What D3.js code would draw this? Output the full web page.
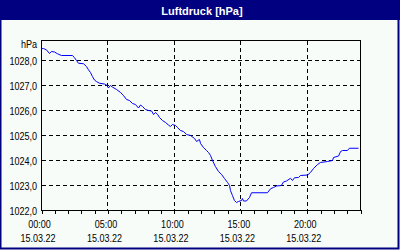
<!DOCTYPE html>
<html><head><meta charset="utf-8">
<script src="https://cdn.jsdelivr.net/npm/d3@7"></script>
<style>
html,body{margin:0;padding:0;background:#f8fcf8;}
svg{display:block;}
text{font-family:"Liberation Sans",Arial,sans-serif;}
</style></head>
<body>
<script>
// time in minutes since 00:00 on 15.03.22
const minutes = [0,9,23,36,45,59,72,90,140,149,158,167,190,203,212,221,230,239,248,262,284,296,302,311,320,339,357,370,384,397,411,424,438,447,456,469,483,497,506,515,524,533,546,560,573,582,591,605,614,627,641,655,673,691,700,713,718,731,745,754,763,772,785,799,813,826,840,849,853,862,871,880,889,903,907,912,925,939,948,1020,1034,1047,1061,1083,1092,1106,1124,1133,1142,1160,1169,1201,1214,1228,1246,1259,1291,1314,1318,1341,1350,1359,1381,1390,1431];
const pressure = [1028.47,1028.48,1028.42,1028.28,1028.36,1028.34,1028.27,1028.20,1028.20,1028.11,1028.00,1027.89,1027.87,1027.76,1027.63,1027.52,1027.36,1027.22,1027.16,1027.09,1027.06,1027.00,1026.90,1027.00,1026.94,1026.84,1026.72,1026.60,1026.44,1026.40,1026.28,1026.24,1026.10,1026.22,1026.16,1026.04,1026.00,1025.98,1025.84,1025.92,1025.84,1025.72,1025.60,1025.52,1025.42,1025.36,1025.44,1025.40,1025.32,1025.20,1025.16,1025.04,1025.00,1024.88,1024.76,1024.84,1024.68,1024.52,1024.40,1024.32,1024.20,1024.00,1023.76,1023.56,1023.44,1023.28,1023.12,1023.00,1022.80,1022.60,1022.40,1022.32,1022.36,1022.40,1022.48,1022.38,1022.38,1022.52,1022.71,1022.71,1022.87,1022.92,1022.98,1023.00,1023.14,1023.18,1023.29,1023.20,1023.31,1023.32,1023.40,1023.42,1023.52,1023.68,1023.84,1023.92,1023.96,1024.00,1024.12,1024.18,1024.36,1024.40,1024.40,1024.49,1024.49];
const yTicks = [1022,1023,1024,1025,1026,1027,1028];
const xMajorMinutes = [0,300,600,900,1200];
const xTimeLabels = ["00:00","05:00","10:00","15:00","20:00"];
const xDateLabels = ["15.03.22","15.03.22","15.03.22","15.03.22","15.03.22"];
const title = "Luftdruck [hPa]";
const unit = "hPa";

const W = 400, H = 250;
const svg = d3.select("body").append("svg").attr("width", W).attr("height", H);

// condense a label horizontally to mimic the narrow bitmap font
function narrow(sel){
  sel.each(function(){
    const w = this.getComputedTextLength();
    d3.select(this).attr("textLength", (w*0.82).toFixed(1)).attr("lengthAdjust","spacingAndGlyphs");
  });
}

// background & frame
svg.append("rect").attr("x",0).attr("y",0).attr("width",W).attr("height",H).attr("fill","#f8fcf8");
svg.append("rect").attr("x",0).attr("y",0).attr("width",W).attr("height",20).attr("fill","#000080");
svg.append("rect").attr("x",0.5).attr("y",0.5).attr("width",W-2).attr("height",H-2)
  .attr("fill","none").attr("stroke","#000080").attr("stroke-width",2);

svg.append("text").attr("x",202).attr("y",14.5).attr("text-anchor","middle")
  .attr("fill","#ffffff").attr("font-weight","bold").attr("font-size","11px").text(title);

const x = d3.scaleLinear().domain([0,1440]).range([41.5,360.5]);
const y = d3.scaleLinear().domain([1022,1028.8]).range([210.5,40.5]);

// grid
const grid = svg.append("g").attr("stroke","#000").attr("stroke-width",1)
  .attr("stroke-dasharray","4,3").attr("shape-rendering","crispEdges");
grid.selectAll("line.h").data(yTicks.slice(1)).enter().append("line")
  .attr("x1",x(0)).attr("x2",x(1440)).attr("y1",d=>Math.round(y(d)-0.5)+0.5).attr("y2",d=>Math.round(y(d)-0.5)+0.5);
grid.selectAll("line.v").data(xMajorMinutes.slice(1)).enter().append("line")
  .attr("y1",y(1028.8)).attr("y2",y(1022)).attr("x1",d=>Math.round(x(d)-0.5)+0.5).attr("x2",d=>Math.round(x(d)-0.5)+0.5);

// frame of plot
svg.append("rect").attr("x",x(0)).attr("y",y(1028.8)).attr("width",x(1440)-x(0)).attr("height",y(1022)-y(1028.8))
  .attr("fill","none").attr("stroke","#000").attr("stroke-width",1).attr("shape-rendering","crispEdges");

// x ticks each hour
const hourTicks = d3.range(0,1441,60);
const xa = svg.append("g").attr("transform","translate(0,210)")
  .call(d3.axisBottom(x).tickValues(hourTicks).tickSize(4).tickFormat(""));
xa.select(".domain").remove();
xa.selectAll("line").attr("stroke","#000").attr("shape-rendering","crispEdges");

// time labels
const xl = svg.append("g").attr("transform","translate(-2.5,213)")
  .call(d3.axisBottom(x).tickValues(xMajorMinutes).tickSize(0).tickPadding(0)
    .tickFormat((d,i)=>xTimeLabels[i]));
xl.attr("font-family",null).attr("font-size",null);
xl.select(".domain").remove();
xl.selectAll("text").attr("font-size","11px").attr("fill","#000").attr("dy","0").attr("y",15).call(narrow);
const xd = svg.append("g").attr("transform","translate(-4,213)")
  .call(d3.axisBottom(x).tickValues(xMajorMinutes).tickSize(0).tickPadding(0)
    .tickFormat((d,i)=>xDateLabels[i]));
xd.attr("font-family",null).attr("font-size",null);
xd.select(".domain").remove();
xd.selectAll("text").attr("font-size","11px").attr("fill","#000").attr("dy","0").attr("y",29).call(narrow);

// y labels
const fmt = d3.format(".1f");
const ya = svg.append("g").attr("transform","translate(37,0)")
  .call(d3.axisLeft(y).tickValues(yTicks).tickSize(0).tickPadding(0).tickFormat(d=>fmt(d).replace(".",",")));
ya.attr("font-family",null).attr("font-size",null);
ya.select(".domain").remove();
ya.selectAll("text").attr("font-size","11px").attr("fill","#000").attr("dy","0.35em").call(narrow);
svg.append("text").attr("x",37).attr("y",48).attr("text-anchor","end").attr("font-size","11px").attr("fill","#000").text(unit).call(narrow);

// line
const data = minutes.map((m,i)=>({m, v: pressure[i]}));
svg.append("path").datum(data)
  .attr("fill","none").attr("stroke","#0000ff").attr("stroke-width",1)
  .attr("d", d3.line().x(d=>x(d.m)).y(d=>y(d.v)));
</script>
</body></html>
